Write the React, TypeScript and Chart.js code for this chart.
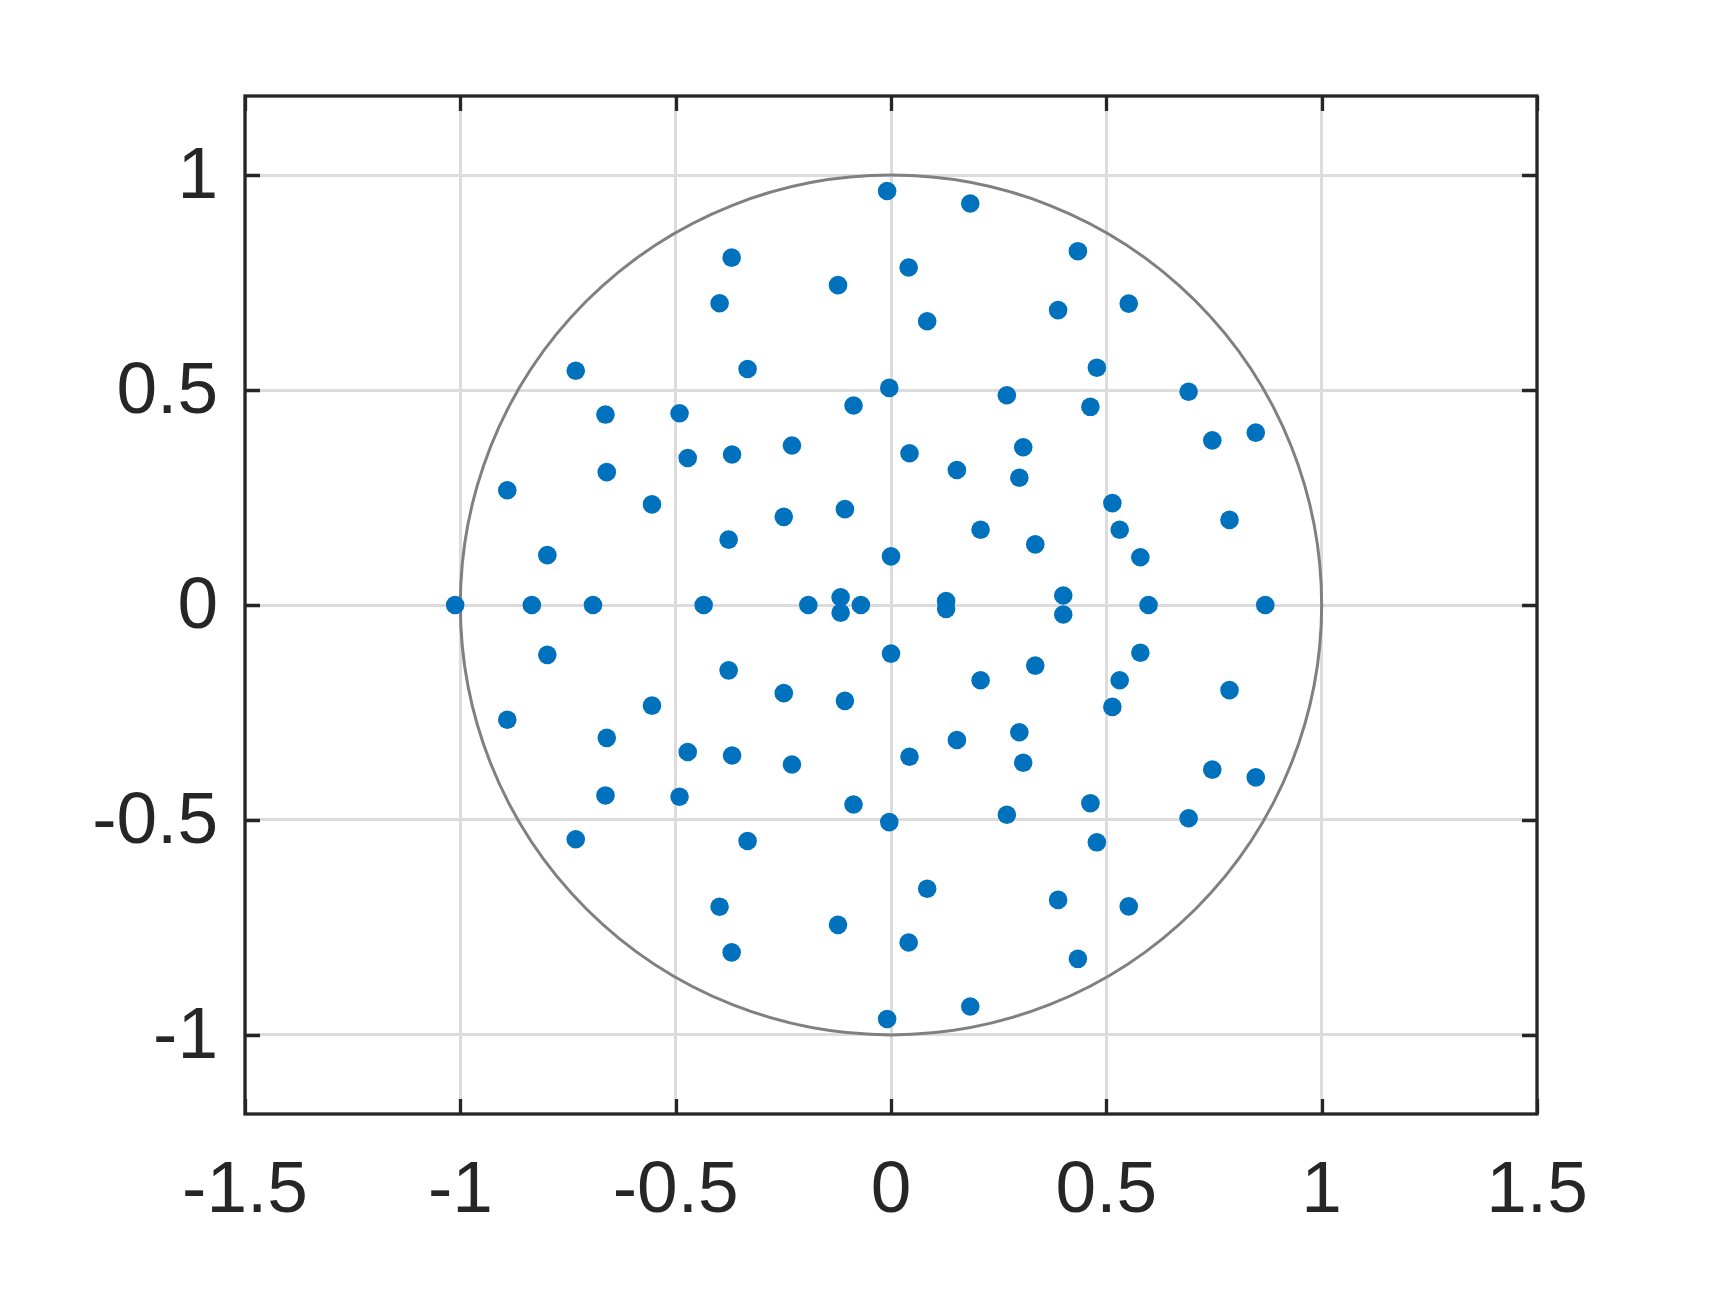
import React, { useEffect, useRef } from "react";
import { Chart, registerables } from "chart.js";

Chart.register(...registerables);

// Axis ticks and limits
const X_TICKS = [-1.5, -1, -0.5, 0, 0.5, 1, 1.5];
const Y_TICKS = [-1, -0.5, 0, 0.5, 1];
const X_MIN = -1.5;
const X_MAX = 1.5;
const Y_MIN = -1.184;
const Y_MAX = 1.184;
const CIRCLE_RADIUS = 1;

// Points above the x axis
const UPPER_X = [
  -0.009, 0.184, 0.434, -0.37, 0.041, -0.123, -0.398, 0.552, 0.388, 0.084,
  -0.333, 0.478, -0.732, -0.004, 0.691, 0.269, -0.087, 0.463, -0.663, -0.491,
  0.847, 0.746, -0.23, 0.307, -0.472, -0.369, 0.043, 0.153, -0.66, 0.298,
  -0.891, -0.555, 0.514, -0.107, -0.249, 0.786, 0.208, 0.531, -0.377, 0.335,
  -0.798, 0.0, 0.579, -0.117, 0.128, 0.4,
];
const UPPER_Y = [
  0.963, 0.934, 0.823, 0.808, 0.785, 0.744, 0.702, 0.701, 0.686, 0.66,
  0.549, 0.552, 0.545, 0.505, 0.496, 0.488, 0.464, 0.461, 0.443, 0.446,
  0.401, 0.383, 0.371, 0.367, 0.342, 0.35, 0.353, 0.314, 0.309, 0.296,
  0.267, 0.234, 0.237, 0.223, 0.205, 0.198, 0.175, 0.175, 0.152, 0.141,
  0.116, 0.113, 0.111, 0.018, 0.009, 0.022,
];

// Points on the x axis
const AXIS_X = [-1.012, -0.834, -0.692, -0.435, -0.192, -0.07, 0.598, 0.869];
const AXIS_Y = [0, 0, 0, 0, 0, 0, 0, 0];

// Points below the x axis
const LOWER_X = [
  -0.009, 0.184, 0.434, -0.37, 0.041, -0.123, -0.398, 0.552, 0.388, 0.084,
  -0.333, 0.478, -0.732, -0.004, 0.691, 0.269, -0.087, 0.463, -0.663, -0.491,
  0.847, 0.746, -0.23, 0.307, -0.472, -0.369, 0.043, 0.153, -0.66, 0.298,
  -0.891, -0.555, 0.514, -0.107, -0.249, 0.786, 0.208, 0.531, -0.377, 0.335,
  -0.798, 0.0, 0.579, -0.117, 0.128, 0.4,
];
const LOWER_Y = [
  -0.963, -0.934, -0.823, -0.808, -0.785, -0.744, -0.702, -0.701, -0.686, -0.66,
  -0.549, -0.552, -0.545, -0.505, -0.496, -0.488, -0.464, -0.461, -0.443, -0.446,
  -0.401, -0.383, -0.371, -0.367, -0.342, -0.35, -0.353, -0.314, -0.309, -0.296,
  -0.267, -0.234, -0.237, -0.223, -0.205, -0.198, -0.175, -0.175, -0.152, -0.141,
  -0.116, -0.113, -0.111, -0.018, -0.009, -0.022,
];

const POINT_COLOR = "#0072BD";
const AXIS_COLOR = "#262626";
const GRID_COLOR = "#dcdcdc";
const CIRCLE_COLOR = "#808080";
const FONT_FAMILY = "'Liberation Sans', Arial, Helvetica, sans-serif";

const W = 1722;
const H = 1289;

const matlabPlugin = {
  id: "matlabAxes",
  beforeDatasetsDraw(chart: any) {
    const { ctx, scales } = chart;
    const xs = scales.x;
    const ys = scales.y;
    const cx = xs.getPixelForValue(0);
    const cy = ys.getPixelForValue(0);
    const rx = xs.getPixelForValue(CIRCLE_RADIUS) - cx;
    const ry = cy - ys.getPixelForValue(CIRCLE_RADIUS);
    ctx.save();
    ctx.beginPath();
    ctx.ellipse(cx, cy, rx, ry, 0, 0, Math.PI * 2);
    ctx.strokeStyle = CIRCLE_COLOR;
    ctx.lineWidth = 3;
    ctx.stroke();
    ctx.restore();
  },
  afterDraw(chart: any) {
    const { ctx, chartArea, scales } = chart;
    const { left, right, top, bottom } = chartArea;
    const xs = scales.x;
    const ys = scales.y;
    const L = 15;
    ctx.save();
    ctx.strokeStyle = AXIS_COLOR;
    ctx.lineWidth = 3.3;
    ctx.lineCap = "butt";
    ctx.beginPath();
    X_TICKS.forEach((v) => {
      const px = Math.round(xs.getPixelForValue(v)) + 0.5;
      ctx.moveTo(px, top);
      ctx.lineTo(px, top + L);
      ctx.moveTo(px, bottom);
      ctx.lineTo(px, bottom - L);
    });
    Y_TICKS.forEach((v) => {
      const py = Math.round(ys.getPixelForValue(v)) + 0.5;
      ctx.moveTo(left, py);
      ctx.lineTo(left + L, py);
      ctx.moveTo(right, py);
      ctx.lineTo(right - L, py);
    });
    ctx.stroke();
    ctx.strokeRect(left, top, right - left, bottom - top);
    ctx.restore();
  },
};

function toPoints(xs: number[], ys: number[]) {
  return xs.map((x, i) => ({ x, y: ys[i] }));
}

export default function App() {
  const canvasRef = useRef<HTMLCanvasElement | null>(null);

  useEffect(() => {
    document.body.style.margin = "0";
    const canvas = canvasRef.current;
    if (!canvas) return;
    const data = [
      ...toPoints(UPPER_X, UPPER_Y),
      ...toPoints(AXIS_X, AXIS_Y),
      ...toPoints(LOWER_X, LOWER_Y),
    ];
    const tickFont = { family: FONT_FAMILY, size: 73 };
    const chart = new Chart(canvas, {
      type: "scatter",
      data: {
        datasets: [
          {
            data,
            pointRadius: 9.3,
            pointHoverRadius: 9.3,
            pointBorderWidth: 0,
            backgroundColor: POINT_COLOR,
            borderColor: POINT_COLOR,
          },
        ],
      },
      options: {
        responsive: false,
        animation: false,
        devicePixelRatio: 1,
        events: [],
        layout: { padding: { left: 0, top: 96, right: 185, bottom: 0 } },
        plugins: {
          legend: { display: false },
          tooltip: { enabled: false },
          title: { display: false },
        },
        scales: {
          x: {
            type: "linear",
            min: X_MIN,
            max: X_MAX,
            afterBuildTicks: (scale: any) => {
              scale.ticks = X_TICKS.map((v) => ({ value: v }));
            },
            afterFit: (scale: any) => {
              scale.height = H - 1114;
            },
            grid: {
              display: true,
              color: GRID_COLOR,
              lineWidth: 3,
              drawTicks: false,
            },
            border: { display: false },
            ticks: {
              autoSkip: false,
              maxRotation: 0,
              minRotation: 0,
              padding: 34,
              color: AXIS_COLOR,
              font: tickFont,
              callback: (v: any) => String(Number(v)),
            },
          },
          y: {
            type: "linear",
            min: Y_MIN,
            max: Y_MAX,
            afterBuildTicks: (scale: any) => {
              scale.ticks = Y_TICKS.map((v) => ({ value: v }));
            },
            afterFit: (scale: any) => {
              scale.width = 245;
            },
            grid: {
              display: true,
              color: GRID_COLOR,
              lineWidth: 3,
              drawTicks: false,
            },
            border: { display: false },
            ticks: {
              autoSkip: false,
              padding: 27,
              labelOffset: 3,
              color: AXIS_COLOR,
              font: tickFont,
              callback: (v: any) => String(Number(v)),
            },
          },
        },
      },
      plugins: [matlabPlugin],
    } as any);
    return () => {
      chart.destroy();
    };
  }, []);

  return (
    <div style={{ position: "absolute", left: 0, top: 0, width: W, height: H, background: "#ffffff" }}>
      <canvas ref={canvasRef} width={W} height={H} style={{ width: W, height: H, display: "block" }} />
    </div>
  );
}
